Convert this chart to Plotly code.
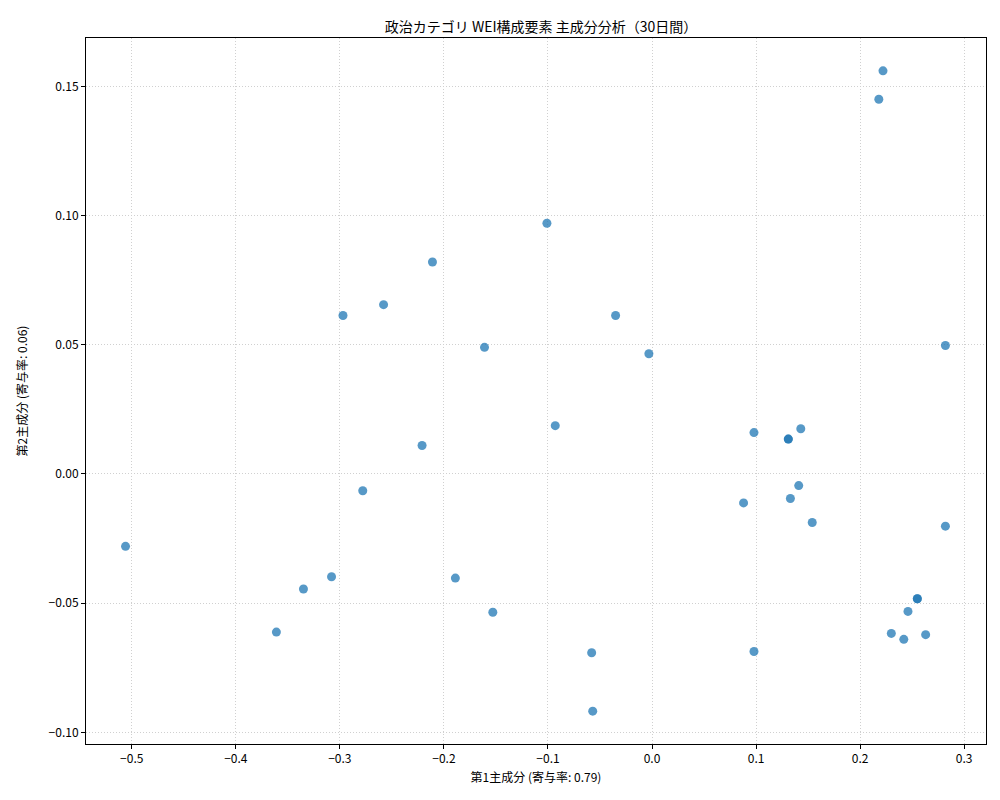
import plotly.graph_objects as go

pc1 = [0.222, 0.218, -0.101, -0.211, -0.258, -0.297, -0.035, -0.161, -0.003, 0.282,
       -0.093, 0.098, 0.143, 0.131, 0.131, -0.221, -0.278, 0.141, 0.088, 0.133,
       0.154, 0.282, -0.506, -0.308, -0.335, -0.189, -0.153, 0.255, 0.255, 0.246,
       -0.361, 0.230, 0.242, 0.263, -0.058, 0.098, -0.057]
pc2 = [0.156, 0.145, 0.097, 0.082, 0.0655, 0.0613, 0.0613, 0.049, 0.0465, 0.0497,
       0.0187, 0.016, 0.0175, 0.0135, 0.0135, 0.011, -0.0065, -0.0045, -0.0112, -0.0095,
       -0.0188, -0.0202, -0.028, -0.0398, -0.0445, -0.0403, -0.0535, -0.0483, -0.0483, -0.0532,
       -0.0612, -0.0617, -0.064, -0.0622, -0.0692, -0.0687, -0.0918]

font = "Noto Sans CJK JP"
fig = go.Figure()
fig.add_trace(go.Scatter(
    x=pc1, y=pc2, mode="markers",
    marker=dict(size=9, color="#1f77b4", opacity=0.75, line=dict(width=0)),
))

axis_style = dict(
    showline=True, linecolor="black", linewidth=1, mirror=True, automargin=False,
    showgrid=True, gridcolor="#d0d0d0", griddash="1px,2px", gridwidth=1,
    zeroline=False, ticks="outside", ticklen=4, tickcolor="black",
    tickfont=dict(size=12, color="black"),
)
fig.update_xaxes(range=[-0.544, 0.321], dtick=0.1, tickformat=".1f",
                 title=dict(text="第1主成分 (寄与率: 0.79)", font=dict(size=12), standoff=8),
                 **axis_style)
fig.update_yaxes(range=[-0.1045, 0.1687], dtick=0.05, tickformat=".2f",
                 title=dict(text="第2主成分 (寄与率: 0.06)", font=dict(size=12), standoff=18),
                 **axis_style)
fig.update_layout(
    width=1000, height=800,
    margin=dict(l=78, r=22, t=30, b=64),
    plot_bgcolor="white", paper_bgcolor="white",
    font=dict(family=font, color="black"),
    title=dict(text="政治カテゴリ WEI構成要素 主成分分析（30日間）", automargin=False,
               x=0.533, xanchor="center", y=0.976, yanchor="middle", font=dict(size=14)),
    showlegend=False,
)
fig.write_html("out.html")
